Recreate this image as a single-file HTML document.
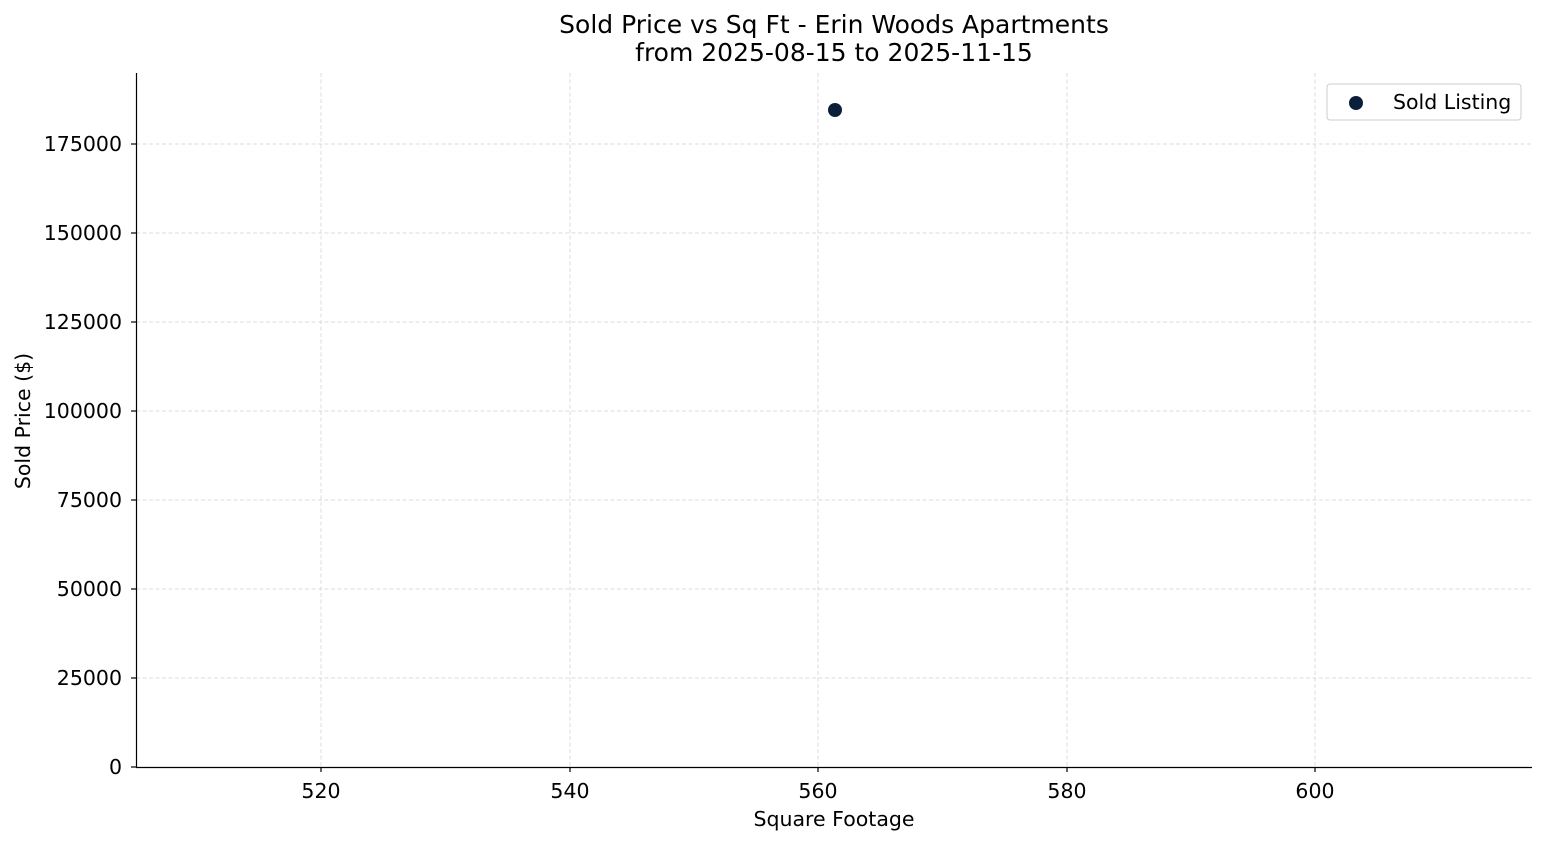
<!DOCTYPE html>
<html><head><meta charset="utf-8"><style>
html,body{margin:0;padding:0;background:#fff;}
svg{display:block;font-family:"DejaVu Sans","Liberation Sans",sans-serif;}
</style></head><body>
<svg width="1547" height="845" viewBox="0 0 1547 845" xmlns="http://www.w3.org/2000/svg">
<rect width="1547" height="845" fill="#fff"/>
<g stroke="#cfcfcf" stroke-width="0.7" stroke-dasharray="4,2.5">
<line x1="321" y1="73" x2="321" y2="767"/>
<line x1="570" y1="73" x2="570" y2="767"/>
<line x1="818" y1="73" x2="818" y2="767"/>
<line x1="1067" y1="73" x2="1067" y2="767"/>
<line x1="1315" y1="73" x2="1315" y2="767"/>
<line x1="136" y1="678" x2="1532" y2="678"/>
<line x1="136" y1="589" x2="1532" y2="589"/>
<line x1="136" y1="500" x2="1532" y2="500"/>
<line x1="136" y1="411" x2="1532" y2="411"/>
<line x1="136" y1="322" x2="1532" y2="322"/>
<line x1="136" y1="233" x2="1532" y2="233"/>
<line x1="136" y1="144" x2="1532" y2="144"/>
</g>
<g stroke="#000" stroke-width="1.2">
<line x1="136.5" y1="73" x2="136.5" y2="767.5"/>
<line x1="136" y1="767.5" x2="1532" y2="767.5"/>
<line x1="321" y1="767" x2="321" y2="772"/>
<line x1="570" y1="767" x2="570" y2="772"/>
<line x1="818" y1="767" x2="818" y2="772"/>
<line x1="1067" y1="767" x2="1067" y2="772"/>
<line x1="1315" y1="767" x2="1315" y2="772"/>
<line x1="131" y1="767" x2="136" y2="767"/>
<line x1="131" y1="678" x2="136" y2="678"/>
<line x1="131" y1="589" x2="136" y2="589"/>
<line x1="131" y1="500" x2="136" y2="500"/>
<line x1="131" y1="411" x2="136" y2="411"/>
<line x1="131" y1="322" x2="136" y2="322"/>
<line x1="131" y1="233" x2="136" y2="233"/>
<line x1="131" y1="144" x2="136" y2="144"/>
</g>
<g font-size="20.5" text-anchor="middle" fill="#000">
<text x="321" y="798">520</text><text x="570" y="798">540</text><text x="818" y="798">560</text><text x="1067" y="798">580</text><text x="1315" y="798">600</text>
</g>
<g font-size="20.5" text-anchor="end" fill="#000">
<text x="122" y="774">0</text><text x="122" y="685">25000</text><text x="122" y="596">50000</text><text x="122" y="507">75000</text><text x="122" y="418">100000</text><text x="122" y="329">125000</text><text x="122" y="240">150000</text><text x="122" y="151">175000</text>
</g>
<text x="834" y="826" font-size="20.5" text-anchor="middle">Square Footage</text>
<text transform="translate(30,421) rotate(-90)" font-size="20.5" text-anchor="middle">Sold Price ($)</text>
<text x="834" y="33" font-size="25" text-anchor="middle">Sold Price vs Sq Ft - Erin Woods Apartments</text>
<text x="834" y="61" font-size="25" text-anchor="middle">from 2025-08-15 to 2025-11-15</text>
<circle cx="835" cy="110" r="7" fill="#0b1f3a"/>
<rect x="1327" y="84" width="194" height="36" rx="3" fill="#fff" stroke="#ccc" stroke-width="1"/>
<circle cx="1356" cy="103" r="7" fill="#0b1f3a"/>
<text x="1393" y="109" font-size="20.5">Sold Listing</text>
</svg>
</body></html>
